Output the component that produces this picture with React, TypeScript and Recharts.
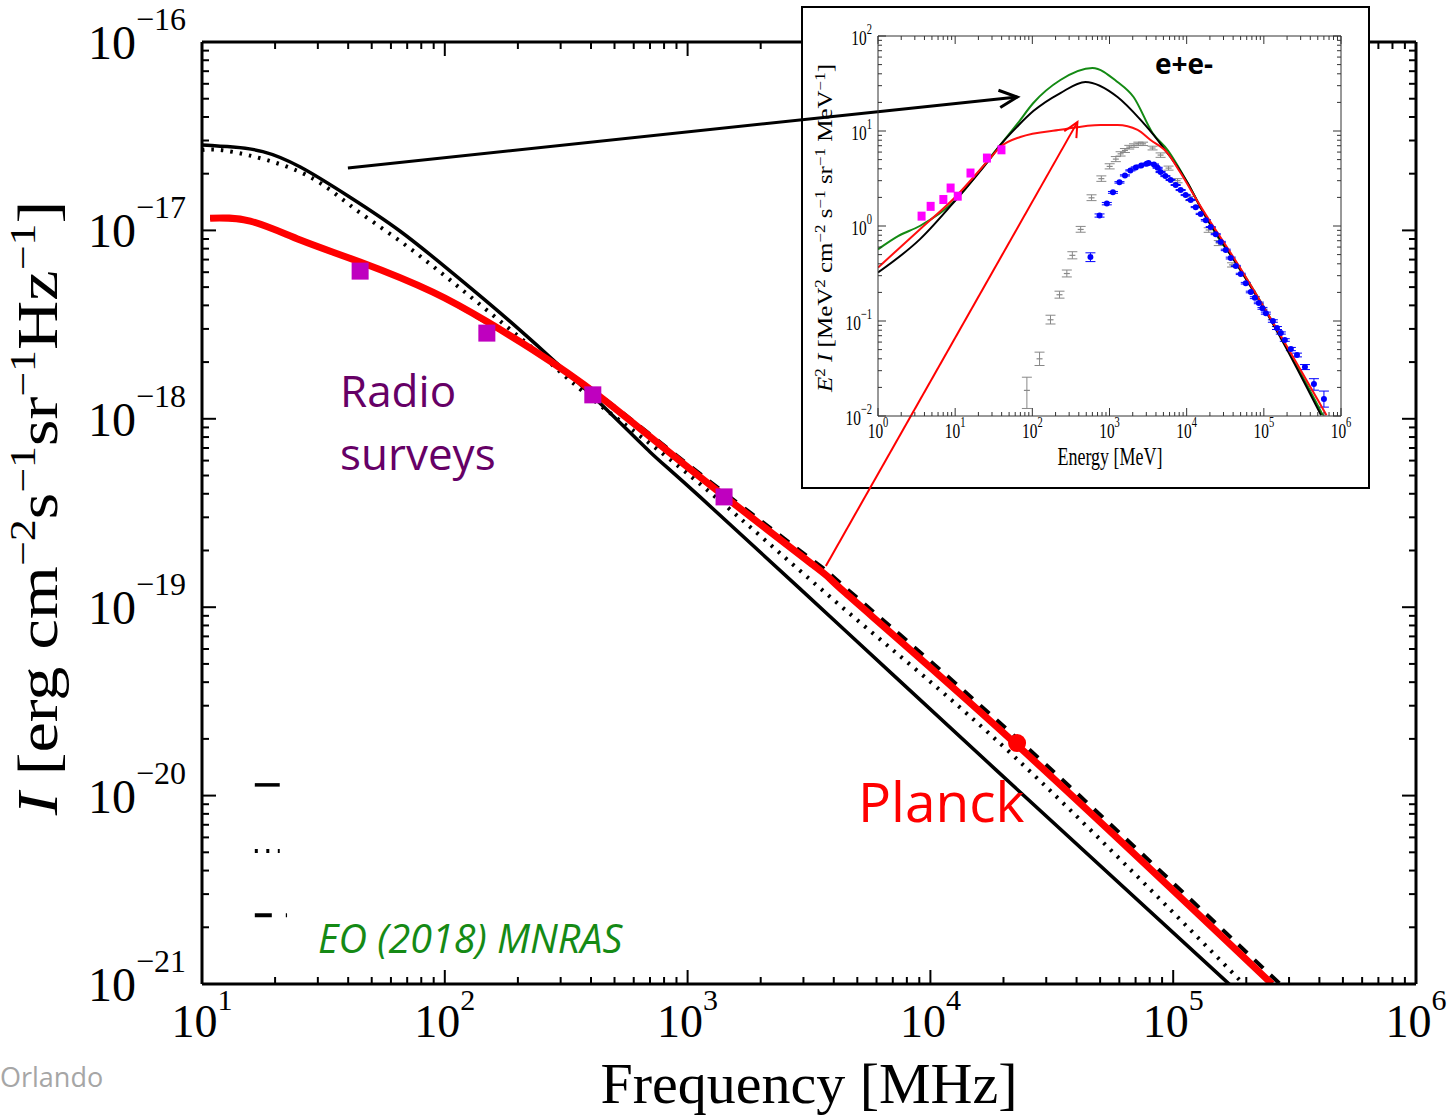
import React from "react";
import {
  ComposedChart,
  ErrorBar,
  Line,
  ReferenceLine,
  Scatter,
  XAxis,
  YAxis,
} from "recharts";

// Synchrotron intensity vs frequency (log-log) with the e+e- spectrum inset
// pasted over the upper right corner, and the two arrows that link them.

const W = 1450;
const H = 1117;
const serif = "'Liberation Serif', 'DejaVu Serif', serif";
const sans = "'Open Sans', 'Noto Sans', sans-serif";

// ---- main panel ----
const mainXExps = [1, 2, 3, 4, 5, 6];
const mainYExps = [-21, -20, -19, -18, -17, -16];

const modelSolid = [
  { f: 10, v: 2.84e-17 },
  { f: 13.4, v: 2.77e-17 },
  { f: 17.8, v: 2.62e-17 },
  { f: 25.4, v: 2.17e-17 },
  { f: 40.7, v: 1.5e-17 },
  { f: 65.3, v: 9.93e-18 },
  { f: 105, v: 6.1e-18 },
  { f: 169, v: 3.65e-18 },
  { f: 271, v: 2.13e-18 },
  { f: 436, v: 1.21e-18 },
  { f: 700, v: 6.67e-19 },
  { f: 1125, v: 3.85e-19 },
  { f: 4467, v: 7.5e-20 },
  { f: 18620, v: 1.37e-20 },
  { f: 171400, v: 9.89e-22 },
];

const modelDotted = [
  { f: 10, v: 2.67e-17 },
  { f: 13.4, v: 2.61e-17 },
  { f: 25.4, v: 2.04e-17 },
  { f: 40.7, v: 1.36e-17 },
  { f: 65.3, v: 8.79e-18 },
  { f: 105, v: 5.46e-18 },
  { f: 169, v: 3.3e-18 },
  { f: 271, v: 1.98e-18 },
  { f: 436, v: 1.18e-18 },
  { f: 1125, v: 4.51e-19 },
  { f: 4467, v: 9.66e-20 },
  { f: 22280, v: 1.6e-20 },
  { f: 195000, v: 1.0e-21 },
];

const modelDashed = [
  { f: 10.8, v: 1.16e-17 },
  { f: 15.8, v: 1.12e-17 },
  { f: 25.4, v: 8.89e-18 },
  { f: 44.8, v: 6.79e-18 },
  { f: 89.3, v: 4.66e-18 },
  { f: 149, v: 3.23e-18 },
  { f: 231, v: 2.32e-18 },
  { f: 436, v: 1.33e-18 },
  { f: 1125, v: 5.1e-19 },
  { f: 3381, v: 1.72e-19 },
  { f: 4467, v: 1.27e-19 },
  { f: 22280, v: 2.06e-20 },
  { f: 275400, v: 1.0e-21 },
];

const modelRed = [
  { f: 10.8, v: 1.16e-17 },
  { f: 15.8, v: 1.12e-17 },
  { f: 25.4, v: 8.89e-18 },
  { f: 44.8, v: 6.79e-18 },
  { f: 89.3, v: 4.7e-18 },
  { f: 149, v: 3.28e-18 },
  { f: 231, v: 2.32e-18 },
  { f: 436, v: 1.31e-18 },
  { f: 1125, v: 4.91e-19 },
  { f: 3381, v: 1.63e-19 },
  { f: 4467, v: 1.19e-19 },
  { f: 22280, v: 1.9e-20 },
  { f: 255300, v: 1.0e-21 },
];

const radioSurveys = [
  { f: 44.8, v: 6.08e-18 },
  { f: 149, v: 2.85e-18 },
  { f: 407, v: 1.34e-18 },
  { f: 1413, v: 3.85e-19 },
];

const planck = [{ f: 22750, v: 1.9e-20 }];

// legend samples (no labels in the original)
const legendSolid = { f0: 16.5, f1: 20.9, v: 1.14e-20 };
const legendDotted = { f0: 16.5, f1: 20.9, v: 5.08e-21 };
const legendDashed = { f0: 16.5, f1: 22.4, v: 2.32e-21 };

// ---- inset: E^2 I vs energy ----
const insetXExps = [0, 1, 2, 3, 4, 5, 6];
const insetYExps = [-2, -1, 0, 1, 2];

const insetGreen = [
  { e: 1, v: 0.568 },
  { e: 1.82, v: 0.783 },
  { e: 3.48, v: 1.0 },
  { e: 10.3, v: 1.9 },
  { e: 27.3, v: 5.07 },
  { e: 38.4, v: 7.13 },
  { e: 64.9, v: 12.1 },
  { e: 103, v: 19.7 },
  { e: 231, v: 34.4 },
  { e: 601, v: 46.0 },
  { e: 1270, v: 32.8 },
  { e: 2050, v: 22.8 },
  { e: 3615, v: 9.53 },
  { e: 5662, v: 6.31 },
  { e: 10300, v: 2.84 },
  { e: 15200, v: 1.58 },
  { e: 25300, v: 0.766 },
  { e: 43150, v: 0.42 },
  { e: 127600, v: 0.1 },
  { e: 582100, v: 0.0102 },
];

const insetBlack = [
  { e: 1, v: 0.324 },
  { e: 3.48, v: 0.723 },
  { e: 10.3, v: 1.9 },
  { e: 27.3, v: 4.9 },
  { e: 38.4, v: 7.1 },
  { e: 64.9, v: 11.3 },
  { e: 103, v: 16.2 },
  { e: 231, v: 25.1 },
  { e: 488, v: 32.8 },
  { e: 1270, v: 22.8 },
  { e: 2529, v: 13.1 },
  { e: 4198, v: 8.04 },
  { e: 5023, v: 6.6 },
  { e: 6194, v: 5.32 },
  { e: 10300, v: 2.84 },
  { e: 15200, v: 1.55 },
  { e: 43150, v: 0.41 },
  { e: 127600, v: 0.097 },
  { e: 551000, v: 0.0102 },
];

const insetRed = [
  { e: 1, v: 0.365 },
  { e: 3.48, v: 0.92 },
  { e: 10.3, v: 2.06 },
  { e: 27.3, v: 4.98 },
  { e: 38.4, v: 6.79 },
  { e: 69.8, v: 8.65 },
  { e: 231, v: 10.3 },
  { e: 764, v: 11.6 },
  { e: 1270, v: 11.6 },
  { e: 2312, v: 10.3 },
  { e: 3404, v: 8.04 },
  { e: 5662, v: 5.86 },
  { e: 8356, v: 3.61 },
  { e: 15200, v: 1.6 },
  { e: 43150, v: 0.43 },
  { e: 648600, v: 0.0102 },
];

const insetRadio = [
  { e: 3.67, v: 1.27 },
  { e: 4.81, v: 1.61 },
  { e: 7.03, v: 1.9 },
  { e: 8.73, v: 2.51 },
  { e: 10.8, v: 2.06 },
  { e: 15.8, v: 3.61 },
  { e: 25.8, v: 5.19 },
  { e: 39.8, v: 6.34 },
];

const insetGrey = [
  { e: 85, v: 0.0186, err: [0.0066, 0.007] },
  { e: 124, v: 0.04, err: [0.006, 0.007] },
  { e: 172, v: 0.103, err: [0.01, 0.012] },
  { e: 225, v: 0.189, err: [0.015, 0.017] },
  { e: 280, v: 0.316, err: [0.025, 0.028] },
  { e: 330, v: 0.491, err: [0.04, 0.045] },
  { e: 423, v: 0.92, err: [0.06, 0.07] },
  { e: 585, v: 1.98, err: [0.13, 0.15] },
  { e: 784, v: 3.15, err: [0.2, 0.22] },
  { e: 1005, v: 4.24, err: [0.25, 0.28] },
  { e: 1208, v: 5.06, err: [0.3, 0.32] },
  { e: 1393, v: 5.75, err: [0.3, 0.3] },
  { e: 1585, v: 6.24, err: [0.3, 0.3] },
  { e: 1804, v: 6.76, err: [0.3, 0.3] },
  { e: 2078, v: 7.03, err: [0.3, 0.3] },
  { e: 2366, v: 7.33, err: [0.3, 0.3] },
  { e: 2723, v: 7.33, err: [0.3, 0.3] },
  { e: 3615, v: 6.62, err: [0.3, 0.3] },
  { e: 4592, v: 5.58, err: [0.3, 0.3] },
  { e: 5821, v: 4.07, err: [0.2, 0.2] },
  { e: 7624, v: 3.0, err: [0.15, 0.15] },
  { e: 11150, v: 1.95, err: [0.1, 0.1] },
  { e: 19300, v: 0.908, err: [0.05, 0.05] },
  { e: 26060, v: 0.662, err: [0.04, 0.04] },
  { e: 38730, v: 0.39, err: [0.02, 0.02] },
];

const insetBlue = [
  { e: 566, v: 0.472, err: [0.05, 0.05] },
  { e: 743, v: 1.29, err: [0.05, 0.05] },
  { e: 923, v: 1.72, err: [0.05, 0.05] },
  { e: 1109, v: 2.26, err: [0.05, 0.05] },
  { e: 1346, v: 2.88, err: [0.05, 0.05] },
  { e: 1585, v: 3.41, err: [0.05, 0.05] },
  { e: 1866, v: 3.85, err: [0.05, 0.05] },
  { e: 2193, v: 4.14, err: [0.05, 0.05] },
  { e: 2582, v: 4.34, err: [0.05, 0.05] },
  { e: 3034, v: 4.52, err: [0.05, 0.05] },
  { e: 3207, v: 4.6, err: [0.05, 0.05] },
  { e: 3767, v: 4.45, err: [0.05, 0.05] },
  { e: 4207, v: 4.1, err: [0.05, 0.05] },
  { e: 4592, v: 3.7, err: [0.05, 0.05] },
  { e: 5300, v: 3.35, err: [0.04, 0.04] },
  { e: 6194, v: 3.05, err: [0.04, 0.04] },
  { e: 7200, v: 2.7, err: [0.03, 0.03] },
  { e: 8356, v: 2.39, err: [0.03, 0.03] },
  { e: 9700, v: 2.12, err: [0.03, 0.03] },
  { e: 11270, v: 1.88, err: [0.02, 0.02] },
  { e: 13100, v: 1.58, err: [0.02, 0.02] },
  { e: 15200, v: 1.34, err: [0.02, 0.02] },
  { e: 17700, v: 1.15, err: [0.02, 0.02] },
  { e: 20510, v: 0.975, err: [0.01, 0.01] },
  { e: 23800, v: 0.82, err: [0.01, 0.01] },
  { e: 27670, v: 0.679, err: [0.01, 0.01] },
  { e: 32100, v: 0.56, err: [0.01, 0.01] },
  { e: 37240, v: 0.46, err: [0.01, 0.01] },
  { e: 43300, v: 0.38, err: [0.005, 0.005] },
  { e: 50240, v: 0.313, err: [0.005, 0.005] },
  { e: 58300, v: 0.25, err: [0.005, 0.005] },
  { e: 67760, v: 0.202, err: [0.004, 0.004] },
  { e: 76500, v: 0.176, err: [0.004, 0.004] },
  { e: 86100, v: 0.155, err: [0.003, 0.003] },
  { e: 96000, v: 0.136, err: [0.003, 0.003] },
  { e: 106200, v: 0.121, err: [0.003, 0.003] },
  { e: 131000, v: 0.1, err: [0.003, 0.003] },
  { e: 148000, v: 0.0844, err: [0.003, 0.003] },
  { e: 166000, v: 0.0748, err: [0.002, 0.002] },
  { e: 187000, v: 0.0631, err: [0.002, 0.002] },
  { e: 224000, v: 0.0507, err: [0.002, 0.002] },
  { e: 269000, v: 0.0439, err: [0.002, 0.002] },
  { e: 341000, v: 0.0328, err: [0.002, 0.002] },
  { e: 446000, v: 0.0217, err: [0.003, 0.003] },
  { e: 601000, v: 0.0151, err: [0.0027, 0.0032] },
];

// arrows from the main panel into the inset, in inset data units
const arrowBlack = { e0: 1.35e-7, v0: 4.08, e1: 63.8, v1: 22.8 };
const arrowRed = { e0: 0.211, v0: 2.64e-4, e1: 384, v1: 12.4 };

function logTicks(exps: number[]) {
  const out: number[] = [];
  exps.forEach((x, i) => {
    const base = Math.pow(10, x);
    out.push(base);
    if (i < exps.length - 1) for (let k = 2; k <= 9; k++) out.push(k * base);
  });
  return out;
}

type Side = "left" | "right" | "top" | "bottom";
type TickLabel = {
  size: number;
  sup: number;
  gap: number;
  base: number;
  rise: number;
  sx: number;
};
type TickStyle = {
  side: Side;
  major: number;
  minor: number;
  stroke: string;
  sw: number;
  label?: TickLabel;
};

const tickRenderer = (s: TickStyle) => (p: any) => {
  const v = p.payload.value as number;
  const lg = Math.log10(v);
  const exp = Math.round(lg);
  const isMajor = Math.abs(lg - exp) < 1e-6;
  const len = isMajor ? s.major : s.minor;
  const x = p.x as number;
  const y = p.y as number;
  let x2 = x;
  let y2 = y;
  if (s.side === "left") x2 = x + len;
  if (s.side === "right") x2 = x - len;
  if (s.side === "bottom") y2 = y - len;
  if (s.side === "top") y2 = y + len;
  const l = s.label;
  let label = null;
  if (l && isMajor) {
    const expTxt = exp < 0 ? "\u2212" + Math.abs(exp) : String(exp);
    const tx = s.side === "left" ? x - l.gap : x;
    const ty = y + l.base;
    label = (
      <text
        transform={`translate(${tx},${ty}) scale(${l.sx},1)`}
        textAnchor={s.side === "left" ? "end" : "middle"}
        fontFamily={serif}
        fontSize={l.size}
        fill="#000"
      >
        10
        <tspan dy={-l.rise} fontSize={l.sup}>
          {expTxt}
        </tspan>
      </text>
    );
  }
  return (
    <g>
      <line x1={x} y1={y} x2={x2} y2={y2} stroke={s.stroke} strokeWidth={s.sw} />
      {label}
    </g>
  );
};

function Arrow(p: any, head: number, color: string, sw: number) {
  const { x1, y1, x2, y2 } = p;
  const a = Math.atan2(y2 - y1, x2 - x1);
  const spread = 0.45;
  const hx1 = x2 - head * Math.cos(a - spread);
  const hy1 = y2 - head * Math.sin(a - spread);
  const hx2 = x2 - head * Math.cos(a + spread);
  const hy2 = y2 - head * Math.sin(a + spread);
  return (
    <g>
      <line x1={x1} y1={y1} x2={x2} y2={y2} stroke={color} strokeWidth={sw} />
      <polyline
        points={`${hx1},${hy1} ${x2},${y2} ${hx2},${hy2}`}
        fill="none"
        stroke={color}
        strokeWidth={sw}
      />
    </g>
  );
}

const mainXTicks = logTicks(mainXExps);
const mainYTicks = logTicks(mainYExps);
const insetXTicks = logTicks(insetXExps);
const insetYTicks = logTicks(insetYExps);

function MainChart() {
  const ax = { stroke: "#000", strokeWidth: 3 };
  return (
    <ComposedChart
      width={W}
      height={H}
      margin={{ top: 41, right: 33, bottom: 43, left: 102 }}
    >
      <XAxis
        dataKey="f"
        type="number"
        scale="log"
        domain={[10, 1e6]}
        allowDataOverflow
        ticks={mainXTicks}
        interval={0}
        height={90}
        tickSize={0}
        tickMargin={0}
        axisLine={ax}
        tickLine={false}
        tick={tickRenderer({
          side: "bottom",
          major: 14,
          minor: 7,
          stroke: "#000",
          sw: 2,
          label: { size: 46, sup: 30, gap: 0, base: 53, rise: 27, sx: 1 },
        })}
        label={{
          content: () => (
            <text
              x={809}
              y={1103}
              textAnchor="middle"
              fontFamily={serif}
              fontSize={58}
              fill="#000"
            >
              Frequency [MHz]
            </text>
          ),
        }}
      />
      <XAxis
        xAxisId="top"
        orientation="top"
        dataKey="f"
        type="number"
        scale="log"
        domain={[10, 1e6]}
        allowDataOverflow
        ticks={mainXTicks}
        interval={0}
        height={1}
        tickSize={0}
        tickMargin={0}
        axisLine={ax}
        tickLine={false}
        tick={tickRenderer({ side: "top", major: 14, minor: 7, stroke: "#000", sw: 2 })}
      />
      <YAxis
        dataKey="v"
        type="number"
        scale="log"
        domain={[1e-21, 1e-16]}
        allowDataOverflow
        ticks={mainYTicks}
        interval={0}
        width={100}
        tickSize={0}
        tickMargin={0}
        axisLine={ax}
        tickLine={false}
        tick={tickRenderer({
          side: "left",
          major: 14,
          minor: 7,
          stroke: "#000",
          sw: 2,
          label: { size: 48, sup: 32, gap: 16, base: 17, rise: 29, sx: 1 },
        })}
        label={{
          content: () => (
            <text
              transform="translate(57,508) rotate(-90) scale(1.22,1)"
              textAnchor="middle"
              fontFamily={serif}
              fontSize={56}
              fill="#000"
            >
              <tspan fontStyle="italic">I</tspan> [erg cm
              <tspan dy={-22} fontSize={36}>
                {"\u22122"}
              </tspan>
              <tspan dy={22}>s</tspan>
              <tspan dy={-22} fontSize={36}>
                {"\u22121"}
              </tspan>
              <tspan dy={22}>sr</tspan>
              <tspan dy={-22} fontSize={36}>
                {"\u22121"}
              </tspan>
              <tspan dy={22}>Hz</tspan>
              <tspan dy={-22} fontSize={36}>
                {"\u22121"}
              </tspan>
              <tspan dy={22}>]</tspan>
            </text>
          ),
        }}
      />
      <YAxis
        yAxisId="right"
        orientation="right"
        dataKey="v"
        type="number"
        scale="log"
        domain={[1e-21, 1e-16]}
        allowDataOverflow
        ticks={mainYTicks}
        interval={0}
        width={1}
        tickSize={0}
        tickMargin={0}
        axisLine={ax}
        tickLine={false}
        tick={tickRenderer({ side: "right", major: 14, minor: 7, stroke: "#000", sw: 2 })}
      />

      <ReferenceLine
        segment={[
          { x: legendSolid.f0, y: legendSolid.v },
          { x: legendSolid.f1, y: legendSolid.v },
        ]}
        stroke="#000"
        strokeWidth={3.5}
      />
      <ReferenceLine
        segment={[
          { x: legendDotted.f0, y: legendDotted.v },
          { x: legendDotted.f1, y: legendDotted.v },
        ]}
        stroke="#000"
        strokeWidth={4}
        strokeDasharray="3 8.5"
      />
      <ReferenceLine
        segment={[
          { x: legendDashed.f0, y: legendDashed.v },
          { x: legendDashed.f1, y: legendDashed.v },
        ]}
        stroke="#000"
        strokeWidth={4}
        strokeDasharray="17 14 2"
      />

      <Line
        data={modelSolid}
        dataKey="v"
        type="natural"
        stroke="#000"
        strokeWidth={3.5}
        dot={false}
        isAnimationActive={false}
      />
      <Line
        data={modelDotted}
        dataKey="v"
        type="natural"
        stroke="#000"
        strokeWidth={4}
        strokeDasharray="2.5 7"
        dot={false}
        isAnimationActive={false}
      />
      <Line
        data={modelDashed}
        dataKey="v"
        type="natural"
        stroke="#000"
        strokeWidth={4}
        strokeDasharray="12 10"
        dot={false}
        isAnimationActive={false}
      />
      <Scatter
        data={radioSurveys}
        dataKey="v"
        isAnimationActive={false}
        shape={(p: any) => (
          <rect x={p.cx - 8.5} y={p.cy - 8.5} width={17} height={17} fill="#bf00bf" />
        )}
      />
      <Line
        data={modelRed}
        dataKey="v"
        type="natural"
        stroke="#ff0000"
        strokeWidth={7}
        dot={false}
        isAnimationActive={false}
      />
      <Scatter
        data={planck}
        dataKey="v"
        isAnimationActive={false}
        shape={(p: any) => <circle cx={p.cx} cy={p.cy} r={9} fill="#ff0000" />}
      />
    </ComposedChart>
  );
}

function InsetChart() {
  const ax = { stroke: "#333", strokeWidth: 1 };
  const lbl = { size: 22, sup: 15, gap: 6, base: 9, rise: 11, sx: 0.7 };
  return (
    <ComposedChart
      width={W}
      height={H}
      margin={{ top: 35, right: 108, bottom: 651, left: 828 }}
    >
      <XAxis
        dataKey="e"
        type="number"
        scale="log"
        domain={[1, 1e6]}
        allowDataOverflow
        ticks={insetXTicks}
        interval={0}
        height={50}
        tickSize={0}
        tickMargin={0}
        axisLine={ax}
        tickLine={false}
        tick={tickRenderer({
          side: "bottom",
          major: 8,
          minor: 4,
          stroke: "#333",
          sw: 1,
          label: { ...lbl, base: 22, rise: 11 },
        })}
        label={{
          content: () => (
            <text
              transform="translate(1110,465) scale(0.72,1)"
              textAnchor="middle"
              fontFamily={serif}
              fontSize={25}
              fill="#000"
            >
              Energy [MeV]
            </text>
          ),
        }}
      />
      <XAxis
        xAxisId="top"
        orientation="top"
        dataKey="e"
        type="number"
        scale="log"
        domain={[1, 1e6]}
        allowDataOverflow
        ticks={insetXTicks}
        interval={0}
        height={1}
        tickSize={0}
        tickMargin={0}
        axisLine={ax}
        tickLine={false}
        tick={tickRenderer({ side: "top", major: 8, minor: 4, stroke: "#333", sw: 1 })}
      />
      <YAxis
        dataKey="v"
        type="number"
        scale="log"
        domain={[0.01, 100]}
        allowDataOverflow
        ticks={insetYTicks}
        interval={0}
        width={50}
        tickSize={0}
        tickMargin={0}
        axisLine={ax}
        tickLine={false}
        tick={tickRenderer({
          side: "left",
          major: 8,
          minor: 4,
          stroke: "#333",
          sw: 1,
          label: lbl,
        })}
        label={{
          content: () => (
            <text
              transform="translate(832,228) rotate(-90) scale(1,0.8)"
              textAnchor="middle"
              fontFamily={serif}
              fontSize={25}
              fill="#000"
            >
              <tspan fontStyle="italic">E</tspan>
              <tspan dy={-9} fontSize={17}>
                2
              </tspan>
              <tspan dy={9}> </tspan>
              <tspan fontStyle="italic">I</tspan> [MeV
              <tspan dy={-9} fontSize={17}>
                2
              </tspan>
              <tspan dy={9}>{"  cm"}</tspan>
              <tspan dy={-9} fontSize={17}>
                {"\u22122"}
              </tspan>
              <tspan dy={9}>{"  s"}</tspan>
              <tspan dy={-9} fontSize={17}>
                {"\u22121"}
              </tspan>
              <tspan dy={9}>{"  sr"}</tspan>
              <tspan dy={-9} fontSize={17}>
                {"\u22121"}
              </tspan>
              <tspan dy={9}>{"  MeV"}</tspan>
              <tspan dy={-9} fontSize={17}>
                {"\u22121"}
              </tspan>
              <tspan dy={9}>]</tspan>
            </text>
          ),
        }}
      />
      <YAxis
        yAxisId="right"
        orientation="right"
        dataKey="v"
        type="number"
        scale="log"
        domain={[0.01, 100]}
        allowDataOverflow
        ticks={insetYTicks}
        interval={0}
        width={1}
        tickSize={0}
        tickMargin={0}
        axisLine={ax}
        tickLine={false}
        tick={tickRenderer({ side: "right", major: 8, minor: 4, stroke: "#333", sw: 1 })}
      />

      <Scatter
        data={insetGrey}
        dataKey="v"
        isAnimationActive={false}
        shape={(p: any) => (
          <line x1={p.cx - 3} x2={p.cx + 3} y1={p.cy} y2={p.cy} stroke="#888" strokeWidth={1.2} />
        )}
      >
        <ErrorBar dataKey="err" direction="y" width={5} stroke="#888" strokeWidth={1} />
      </Scatter>
      <Scatter
        data={insetBlue}
        dataKey="v"
        isAnimationActive={false}
        shape={(p: any) => <circle cx={p.cx} cy={p.cy} r={3} fill="#0000ff" />}
      >
        <ErrorBar dataKey="err" direction="y" width={5} stroke="#0000ff" strokeWidth={1} />
      </Scatter>
      <Scatter
        data={insetRadio}
        dataKey="v"
        isAnimationActive={false}
        shape={(p: any) => (
          <rect x={p.cx - 4} y={p.cy - 4.5} width={8} height={9} fill="#ff00ff" />
        )}
      />
      <Line
        data={insetGreen}
        dataKey="v"
        type="monotone"
        stroke="#138a13"
        strokeWidth={2}
        dot={false}
        isAnimationActive={false}
      />
      <Line
        data={insetBlack}
        dataKey="v"
        type="monotone"
        stroke="#000"
        strokeWidth={2}
        dot={false}
        isAnimationActive={false}
      />
      <Line
        data={insetRed}
        dataKey="v"
        type="monotone"
        stroke="#ff1010"
        strokeWidth={2}
        dot={false}
        isAnimationActive={false}
      />

      <ReferenceLine
        segment={[
          { x: arrowBlack.e0, y: arrowBlack.v0 },
          { x: arrowBlack.e1, y: arrowBlack.v1 },
        ]}
        ifOverflow="visible"
        shape={(p: any) => Arrow(p, 20, "#000", 3)}
      />
      <ReferenceLine
        segment={[
          { x: arrowRed.e0, y: arrowRed.v0 },
          { x: arrowRed.e1, y: arrowRed.v1 },
        ]}
        ifOverflow="visible"
        shape={(p: any) => Arrow(p, 16, "#ff0000", 2)}
      />
    </ComposedChart>
  );
}

function Notes() {
  return (
    <svg width={W} height={H} style={{ position: "absolute", left: 0, top: 0 }}>
      <text x={340} y={407} fontFamily={sans} fontSize={44} fill="#660066">
        Radio
      </text>
      <text x={340} y={470} fontFamily={sans} fontSize={44} fill="#660066">
        surveys
      </text>
      <text x={858} y={822} fontFamily={sans} fontSize={55} fill="#ff0000">
        Planck
      </text>
      <text
        x={318}
        y={953}
        fontFamily={sans}
        fontStyle="italic"
        fontSize={39.5}
        fill="#158a15"
      >
        EO (2018) MNRAS
      </text>
      <text x={1155} y={74} fontFamily={sans} fontWeight="bold" fontSize={28} fill="#000">
        e+e-
      </text>
      <text x={0} y={1087} fontFamily={sans} fontSize={27} fill="#a6a6a6">
        Orlando
      </text>
    </svg>
  );
}

export default function App() {
  return (
    <div
      style={{
        position: "absolute",
        left: 0,
        top: 0,
        width: W,
        height: H,
        background: "#fff",
        overflow: "hidden",
      }}
    >
      <div style={{ position: "absolute", left: 0, top: 0 }}>
        <MainChart />
      </div>
      <div
        style={{
          position: "absolute",
          left: 801,
          top: 6,
          width: 569,
          height: 483,
          boxSizing: "border-box",
          border: "2.5px solid #000",
          background: "#fff",
        }}
      />
      <div style={{ position: "absolute", left: 0, top: 0 }}>
        <InsetChart />
      </div>
      <Notes />
    </div>
  );
}
